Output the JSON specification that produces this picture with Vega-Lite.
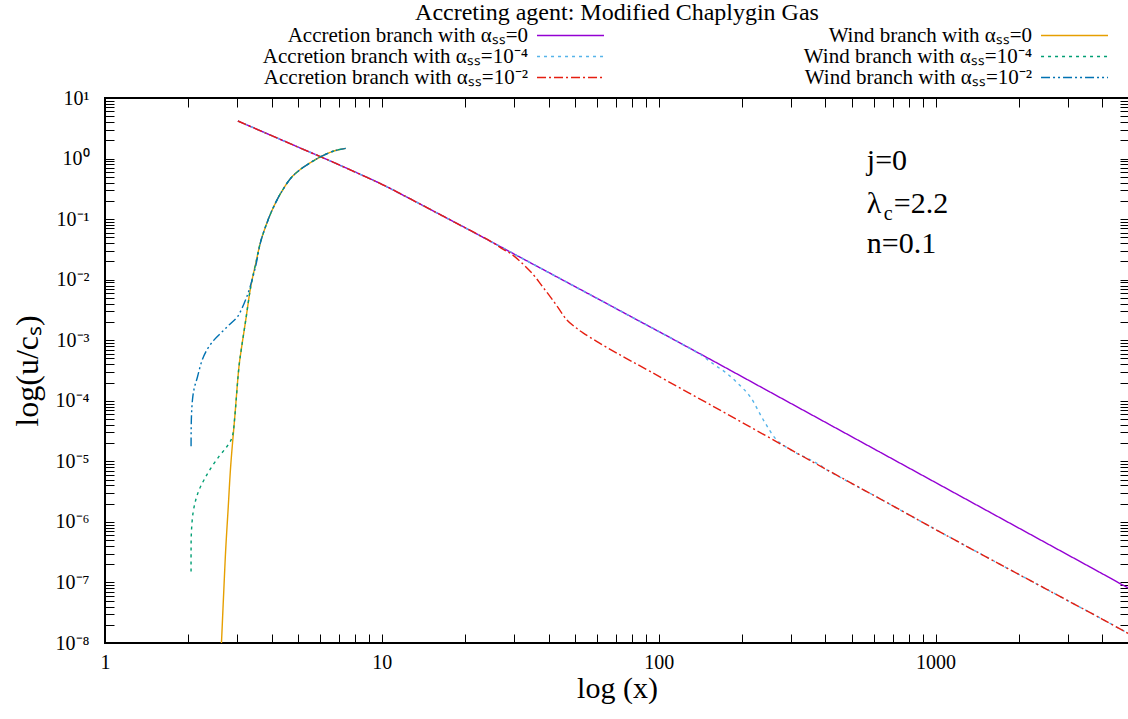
{
  "$schema": "https://vega.github.io/schema/vega-lite/v6.json",
  "autosize": {"type": "pad"},
  "padding": {"left": 10, "top": 0, "right": 0, "bottom": 0},
  "background": "white",
  "title": {"text": "Accreting agent: Modified Chaplygin Gas", "font": "Liberation Serif", "fontSize": 24, "fontWeight": "normal", "color": "black", "anchor": "middle", "frame": "group", "offset": 0},
  "spacing": 10,
  "bounds": "flush",
  "config": {
    "font": "Liberation Serif",
    "axis": {"labelColor": "black", "tickColor": "black", "titleColor": "black", "labelFont": "Liberation Serif", "titleFont": "Liberation Serif", "titleFontWeight": "normal", "grid": false, "domain": false, "tickWidth": 1, "ticks": true},
    "text": {"font": "Liberation Serif", "color": "black"}
  },
  "datasets": {
    "curves": [
      {"s": "acc0", "i": 0, "x": 3.02, "u": 4.17},
      {"s": "acc0", "i": 1, "x": 3.98, "u": 2.415},
      {"s": "acc0", "i": 2, "x": 5.01, "u": 1.531},
      {"s": "acc0", "i": 3, "x": 6.31, "u": 0.973},
      {"s": "acc0", "i": 4, "x": 7.94, "u": 0.61},
      {"s": "acc0", "i": 5, "x": 10, "u": 0.376},
      {"s": "acc0", "i": 6, "x": 12.59, "u": 0.219},
      {"s": "acc0", "i": 7, "x": 15.85, "u": 0.126},
      {"s": "acc0", "i": 8, "x": 19.95, "u": 0.0724},
      {"s": "acc0", "i": 9, "x": 25.12, "u": 0.0412},
      {"s": "acc0", "i": 10, "x": 31.62, "u": 0.0234},
      {"s": "acc0", "i": 11, "x": 39.81, "u": 0.01334},
      {"s": "acc0", "i": 12, "x": 50.12, "u": 0.00759},
      {"s": "acc0", "i": 13, "x": 63.1, "u": 0.00432},
      {"s": "acc0", "i": 14, "x": 79.4, "u": 0.002455},
      {"s": "acc0", "i": 15, "x": 100, "u": 0.001396},
      {"s": "acc0", "i": 16, "x": 158.5, "u": 0.000447},
      {"s": "acc0", "i": 17, "x": 251.2, "u": 0.0001413},
      {"s": "acc0", "i": 18, "x": 398.1, "u": 0.0000447},
      {"s": "acc0", "i": 19, "x": 631, "u": 0.00001413},
      {"s": "acc0", "i": 20, "x": 1000, "u": 0.00000447},
      {"s": "acc0", "i": 21, "x": 1585, "u": 0.000001413},
      {"s": "acc0", "i": 22, "x": 2512, "u": 4.47e-7},
      {"s": "acc0", "i": 23, "x": 3981, "u": 1.413e-7},
      {"s": "acc0", "i": 24, "x": 5000, "u": 7.94e-8},

      {"s": "acc4", "i": 0, "x": 3.02, "u": 4.17},
      {"s": "acc4", "i": 1, "x": 3.98, "u": 2.415},
      {"s": "acc4", "i": 2, "x": 5.01, "u": 1.531},
      {"s": "acc4", "i": 3, "x": 6.31, "u": 0.973},
      {"s": "acc4", "i": 4, "x": 7.94, "u": 0.61},
      {"s": "acc4", "i": 5, "x": 10, "u": 0.376},
      {"s": "acc4", "i": 6, "x": 12.59, "u": 0.219},
      {"s": "acc4", "i": 7, "x": 15.85, "u": 0.126},
      {"s": "acc4", "i": 8, "x": 19.95, "u": 0.0724},
      {"s": "acc4", "i": 9, "x": 25.12, "u": 0.0412},
      {"s": "acc4", "i": 10, "x": 31.62, "u": 0.0234},
      {"s": "acc4", "i": 11, "x": 39.81, "u": 0.01334},
      {"s": "acc4", "i": 12, "x": 50.12, "u": 0.00759},
      {"s": "acc4", "i": 13, "x": 63.1, "u": 0.00432},
      {"s": "acc4", "i": 14, "x": 79.4, "u": 0.002455},
      {"s": "acc4", "i": 15, "x": 100, "u": 0.001396},
      {"s": "acc4", "i": 16, "x": 125.9, "u": 0.00079},
      {"s": "acc4", "i": 17, "x": 140.9, "u": 0.000589},
      {"s": "acc4", "i": 18, "x": 158.5, "u": 0.000398},
      {"s": "acc4", "i": 19, "x": 175.8, "u": 0.000286},
      {"s": "acc4", "i": 20, "x": 195, "u": 0.000186},
      {"s": "acc4", "i": 21, "x": 213.8, "u": 0.0001178},
      {"s": "acc4", "i": 22, "x": 238.8, "u": 0.0000485},
      {"s": "acc4", "i": 23, "x": 266.7, "u": 0.0000227},
      {"s": "acc4", "i": 24, "x": 306.2, "u": 0.00001462},
      {"s": "acc4", "i": 25, "x": 342, "u": 0.00001138},
      {"s": "acc4", "i": 26, "x": 383.7, "u": 0.00000861},
      {"s": "acc4", "i": 27, "x": 398.1, "u": 0.00000759},
      {"s": "acc4", "i": 28, "x": 631, "u": 0.0000024},
      {"s": "acc4", "i": 29, "x": 1000, "u": 7.5e-7},
      {"s": "acc4", "i": 30, "x": 1585, "u": 2.4e-7},
      {"s": "acc4", "i": 31, "x": 2512, "u": 7.76e-8},
      {"s": "acc4", "i": 32, "x": 3981, "u": 2.51e-8},
      {"s": "acc4", "i": 33, "x": 5000, "u": 1.413e-8},

      {"s": "acc2", "i": 0, "x": 3.02, "u": 4.17},
      {"s": "acc2", "i": 1, "x": 3.98, "u": 2.415},
      {"s": "acc2", "i": 2, "x": 5.01, "u": 1.531},
      {"s": "acc2", "i": 3, "x": 6.31, "u": 0.973},
      {"s": "acc2", "i": 4, "x": 7.94, "u": 0.61},
      {"s": "acc2", "i": 5, "x": 10, "u": 0.376},
      {"s": "acc2", "i": 6, "x": 12.59, "u": 0.219},
      {"s": "acc2", "i": 7, "x": 15.85, "u": 0.126},
      {"s": "acc2", "i": 8, "x": 19.95, "u": 0.0724},
      {"s": "acc2", "i": 9, "x": 25.12, "u": 0.0412},
      {"s": "acc2", "i": 10, "x": 27.48, "u": 0.0316},
      {"s": "acc2", "i": 11, "x": 29.1, "u": 0.02735},
      {"s": "acc2", "i": 12, "x": 31.62, "u": 0.01995},
      {"s": "acc2", "i": 13, "x": 35.3, "u": 0.012},
      {"s": "acc2", "i": 14, "x": 37.84, "u": 0.00794},
      {"s": "acc2", "i": 15, "x": 40.55, "u": 0.00526},
      {"s": "acc2", "i": 16, "x": 43.45, "u": 0.00339},
      {"s": "acc2", "i": 17, "x": 46.56, "u": 0.00217},
      {"s": "acc2", "i": 18, "x": 50.12, "u": 0.00162},
      {"s": "acc2", "i": 19, "x": 53.46, "u": 0.00131},
      {"s": "acc2", "i": 20, "x": 60.26, "u": 0.000933},
      {"s": "acc2", "i": 21, "x": 70.63, "u": 0.000612},
      {"s": "acc2", "i": 22, "x": 93.1, "u": 0.000305},
      {"s": "acc2", "i": 23, "x": 158.5, "u": 0.0000794},
      {"s": "acc2", "i": 24, "x": 251.2, "u": 0.00002455},
      {"s": "acc2", "i": 25, "x": 398.1, "u": 0.00000759},
      {"s": "acc2", "i": 26, "x": 631, "u": 0.0000024},
      {"s": "acc2", "i": 27, "x": 1000, "u": 7.5e-7},
      {"s": "acc2", "i": 28, "x": 1585, "u": 2.4e-7},
      {"s": "acc2", "i": 29, "x": 2512, "u": 7.76e-8},
      {"s": "acc2", "i": 30, "x": 3981, "u": 2.51e-8},
      {"s": "acc2", "i": 31, "x": 5000, "u": 1.413e-8},

      {"s": "wind0", "i": 0, "x": 2.6, "u": 3.16e-9},
      {"s": "wind0", "i": 1, "x": 2.634, "u": 1e-8},
      {"s": "wind0", "i": 2, "x": 2.679, "u": 5.62e-8},
      {"s": "wind0", "i": 3, "x": 2.729, "u": 3.475e-7},
      {"s": "wind0", "i": 4, "x": 2.786, "u": 0.0000017},
      {"s": "wind0", "i": 5, "x": 2.844, "u": 0.00000824},
      {"s": "wind0", "i": 6, "x": 2.944, "u": 0.000055},
      {"s": "wind0", "i": 7, "x": 3.048, "u": 0.000368},
      {"s": "wind0", "i": 8, "x": 3.112, "u": 0.000741},
      {"s": "wind0", "i": 9, "x": 3.225, "u": 0.00217},
      {"s": "wind0", "i": 10, "x": 3.362, "u": 0.00769},
      {"s": "wind0", "i": 11, "x": 3.508, "u": 0.01905},
      {"s": "wind0", "i": 12, "x": 3.652, "u": 0.0427},
      {"s": "wind0", "i": 13, "x": 3.882, "u": 0.0971},
      {"s": "wind0", "i": 14, "x": 4.081, "u": 0.1652},
      {"s": "wind0", "i": 15, "x": 4.312, "u": 0.2673},
      {"s": "wind0", "i": 16, "x": 4.688, "u": 0.473},
      {"s": "wind0", "i": 17, "x": 5.091, "u": 0.668},
      {"s": "wind0", "i": 18, "x": 5.534, "u": 0.861},
      {"s": "wind0", "i": 19, "x": 6.012, "u": 1.074},
      {"s": "wind0", "i": 20, "x": 6.714, "u": 1.334},
      {"s": "wind0", "i": 21, "x": 7.396, "u": 1.472},

      {"s": "wind4", "i": 0, "x": 2.046, "u": 1.52e-7},
      {"s": "wind4", "i": 1, "x": 2.046, "u": 3.16e-7},
      {"s": "wind4", "i": 2, "x": 2.051, "u": 6.55e-7},
      {"s": "wind4", "i": 3, "x": 2.08, "u": 0.000001413},
      {"s": "wind4", "i": 4, "x": 2.128, "u": 0.00000232},
      {"s": "wind4", "i": 5, "x": 2.188, "u": 0.00000339},
      {"s": "wind4", "i": 6, "x": 2.28, "u": 0.00000497},
      {"s": "wind4", "i": 7, "x": 2.399, "u": 0.00000741},
      {"s": "wind4", "i": 8, "x": 2.582, "u": 0.00001205},
      {"s": "wind4", "i": 9, "x": 2.754, "u": 0.0000174},
      {"s": "wind4", "i": 10, "x": 2.851, "u": 0.0000224},
      {"s": "wind4", "i": 11, "x": 2.897, "u": 0.0000282},
      {"s": "wind4", "i": 12, "x": 2.944, "u": 0.000055},
      {"s": "wind4", "i": 13, "x": 3.048, "u": 0.000368},
      {"s": "wind4", "i": 14, "x": 3.112, "u": 0.000741},
      {"s": "wind4", "i": 15, "x": 3.225, "u": 0.00217},
      {"s": "wind4", "i": 16, "x": 3.362, "u": 0.00769},
      {"s": "wind4", "i": 17, "x": 3.508, "u": 0.01905},
      {"s": "wind4", "i": 18, "x": 3.652, "u": 0.0427},
      {"s": "wind4", "i": 19, "x": 3.882, "u": 0.0971},
      {"s": "wind4", "i": 20, "x": 4.081, "u": 0.1652},
      {"s": "wind4", "i": 21, "x": 4.312, "u": 0.2673},
      {"s": "wind4", "i": 22, "x": 4.688, "u": 0.473},
      {"s": "wind4", "i": 23, "x": 5.091, "u": 0.668},
      {"s": "wind4", "i": 24, "x": 5.534, "u": 0.861},
      {"s": "wind4", "i": 25, "x": 6.012, "u": 1.074},
      {"s": "wind4", "i": 26, "x": 6.714, "u": 1.334},
      {"s": "wind4", "i": 27, "x": 7.396, "u": 1.472},

      {"s": "wind2", "i": 0, "x": 2.046, "u": 0.0000177},
      {"s": "wind2", "i": 1, "x": 2.051, "u": 0.0000501},
      {"s": "wind2", "i": 2, "x": 2.07, "u": 0.000104},
      {"s": "wind2", "i": 3, "x": 2.099, "u": 0.0001585},
      {"s": "wind2", "i": 4, "x": 2.16, "u": 0.000252},
      {"s": "wind2", "i": 5, "x": 2.239, "u": 0.000457},
      {"s": "wind2", "i": 6, "x": 2.336, "u": 0.000695},
      {"s": "wind2", "i": 7, "x": 2.483, "u": 0.001023},
      {"s": "wind2", "i": 8, "x": 2.655, "u": 0.00139},
      {"s": "wind2", "i": 9, "x": 2.818, "u": 0.00182},
      {"s": "wind2", "i": 10, "x": 3.013, "u": 0.00246},
      {"s": "wind2", "i": 11, "x": 3.119, "u": 0.00331},
      {"s": "wind2", "i": 12, "x": 3.221, "u": 0.00465},
      {"s": "wind2", "i": 13, "x": 3.327, "u": 0.00708},
      {"s": "wind2", "i": 14, "x": 3.508, "u": 0.0174},
      {"s": "wind2", "i": 15, "x": 3.652, "u": 0.0427},
      {"s": "wind2", "i": 16, "x": 3.882, "u": 0.0971},
      {"s": "wind2", "i": 17, "x": 4.081, "u": 0.1652},
      {"s": "wind2", "i": 18, "x": 4.312, "u": 0.2673},
      {"s": "wind2", "i": 19, "x": 4.688, "u": 0.473},
      {"s": "wind2", "i": 20, "x": 5.091, "u": 0.668},
      {"s": "wind2", "i": 21, "x": 5.534, "u": 0.861},
      {"s": "wind2", "i": 22, "x": 6.012, "u": 1.074},
      {"s": "wind2", "i": 23, "x": 6.714, "u": 1.334},
      {"s": "wind2", "i": 24, "x": 7.396, "u": 1.472}
    ],
    "legend": [
      {"s": "acc0", "label": "Accretion branch with αₛₛ=0", "row": 0, "col": 0},
      {"s": "acc4", "label": "Accretion branch with αₛₛ=10⁻⁴", "row": 1, "col": 0},
      {"s": "acc2", "label": "Accretion branch with αₛₛ=10⁻²", "row": 2, "col": 0},
      {"s": "wind0", "label": "Wind branch with αₛₛ=0", "row": 0, "col": 1},
      {"s": "wind4", "label": "Wind branch with αₛₛ=10⁻⁴", "row": 1, "col": 1},
      {"s": "wind2", "label": "Wind branch with αₛₛ=10⁻²", "row": 2, "col": 1}
    ],
    "notes": [
      {"part": "main", "x": 565, "y": 0.65, "t": "j=0"},
      {"part": "main", "x": 565, "y": 0.126, "t": "λ"},
      {"part": "sub", "x": 565, "y": 0.126, "t": "c"},
      {"part": "tail", "x": 565, "y": 0.126, "t": "=2.2"},
      {"part": "main", "x": 565, "y": 0.0277, "t": "n=0.1"}
    ]
  },
  "vconcat": [
    {
      "width": 1024,
      "height": 63,
      "view": {"stroke": null},
      "data": {"name": "legend"},
      "layer": [
        {
          "mark": {"type": "text", "align": "right", "baseline": "middle", "font": "Liberation Serif", "fontSize": 21, "color": "black"},
          "encoding": {
            "x": {"field": "col", "type": "quantitative", "scale": {"domain": [-0.8393, 1.1924], "nice": false, "zero": false}, "axis": null},
            "y": {"field": "row", "type": "ordinal", "scale": {"type": "point", "padding": 0.5}, "axis": null},
            "text": {"field": "label"}
          }
        },
        {
          "mark": {"type": "rule", "xOffset": 9, "x2Offset": 76, "strokeWidth": 1.5},
          "encoding": {
            "x": {"field": "col", "type": "quantitative"},
            "x2": {"field": "col"},
            "y": {"field": "row", "type": "ordinal"},
            "color": {"field": "s", "type": "nominal", "legend": null,
              "scale": {"domain": ["acc0", "acc4", "acc2", "wind0", "wind4", "wind2"], "range": ["#9400D3", "#56B4E9", "#E51E10", "#E69F00", "#009E73", "#0072B2"]}},
            "strokeDash": {"field": "s", "type": "nominal", "legend": null,
              "scale": {"domain": ["acc0", "acc4", "acc2", "wind0", "wind4", "wind2"], "range": [[1, 0], [3, 4], [9, 3, 2, 3], [1, 0], [3, 4], [9, 3, 2, 3, 2, 3]]}}
          }
        }
      ]
    },
    {
      "width": 1024,
      "height": 545,
      "view": {"stroke": "black", "strokeWidth": 2},
      "layer": [
        {
          "data": {"name": "curves"},
          "mark": {"type": "line", "clip": true, "strokeWidth": 1.4, "interpolate": "catmull-rom"},
          "encoding": {
            "x": {"field": "x", "type": "quantitative",
              "scale": {"type": "log", "domain": [1, 5000], "nice": false},
              "axis": {"orient": "bottom", "values": [1,2,3,4,5,6,7,8,9,10,20,30,40,50,60,70,80,90,100,200,300,400,500,600,700,800,900,1000,2000,3000,4000,5000],
                "labelExpr": "datum.value == 1 ? '1' : datum.value == 10 ? '10' : datum.value == 100 ? '100' : datum.value == 1000 ? '1000' : ''",
                "labelOverlap": false, "labelFlush": false, "labelFontSize": 20, "labelPadding": 18, "tickSize": -9,
                "encode": {"ticks": {"update": {"y2": {"signal": "abs(log(datum.value)/LN10 - round(log(datum.value)/LN10)) < 0.000001 ? -9 : -5"}}}},
                "title": "log (x)", "titleFontSize": 30, "titlePadding": 1}},
            "y": {"field": "u", "type": "quantitative",
              "scale": {"type": "log", "domain": [1e-8, 10], "nice": false},
              "axis": {"orient": "left", "values": [1e-8,2e-8,3e-8,4e-8,5e-8,6e-8,7e-8,8e-8,9e-8,1e-7,2e-7,3e-7,4e-7,5e-7,6e-7,7e-7,8e-7,9e-7,1e-6,2e-6,3e-6,4e-6,5e-6,6e-6,7e-6,8e-6,9e-6,1e-5,2e-5,3e-5,4e-5,5e-5,6e-5,7e-5,8e-5,9e-5,1e-4,2e-4,3e-4,4e-4,5e-4,6e-4,7e-4,8e-4,9e-4,0.001,0.002,0.003,0.004,0.005,0.006,0.007,0.008,0.009,0.01,0.02,0.03,0.04,0.05,0.06,0.07,0.08,0.09,0.1,0.2,0.3,0.4,0.5,0.6,0.7,0.8,0.9,1,2,3,4,5,6,7,8,9,10],
                "labelExpr": "abs(log(datum.value)/LN10 - round(log(datum.value)/LN10)) < 0.000001 ? ['10⁻⁸','10⁻⁷','10⁻⁶','10⁻⁵','10⁻⁴','10⁻³','10⁻²','10⁻¹','10⁰','10¹'][round(log(datum.value)/LN10)+8] : ''",
                "labelOverlap": false, "labelFlush": false, "labelFontSize": 20, "labelPadding": 25, "tickSize": -9,
                "encode": {"ticks": {"update": {"x2": {"signal": "abs(log(datum.value)/LN10 - round(log(datum.value)/LN10)) < 0.000001 ? 9 : 5"}}}},
                "title": "log(u/cₛ)", "titleFontSize": 32, "titlePadding": 11}},
            "color": {"field": "s", "type": "nominal", "legend": null,
              "scale": {"domain": ["acc0", "acc4", "acc2", "wind0", "wind4", "wind2"], "range": ["#9400D3", "#56B4E9", "#E51E10", "#E69F00", "#009E73", "#0072B2"]}},
            "strokeDash": {"field": "s", "type": "nominal", "legend": null,
              "scale": {"domain": ["acc0", "acc4", "acc2", "wind0", "wind4", "wind2"], "range": [[1, 0], [3, 4], [9, 3, 2, 3], [1, 0], [3, 4], [9, 3, 2, 3, 2, 3]]}},
            "order": {"field": "i", "type": "quantitative"}
          }
        },
        {
          "data": {"name": "notes"},
          "transform": [{"filter": "datum.part == 'main'"}],
          "mark": {"type": "text", "align": "left", "baseline": "alphabetic", "fontSize": 30, "font": "Liberation Serif", "color": "black"},
          "encoding": {
            "x": {"field": "x", "type": "quantitative",
              "axis": {"orient": "top", "values": [1,2,3,4,5,6,7,8,9,10,20,30,40,50,60,70,80,90,100,200,300,400,500,600,700,800,900,1000,2000,3000,4000,5000],
                "labels": false, "title": null, "tickSize": -9,
                "encode": {"ticks": {"update": {"y2": {"signal": "abs(log(datum.value)/LN10 - round(log(datum.value)/LN10)) < 0.000001 ? 9 : 5"}}}}}},
            "y": {"field": "y", "type": "quantitative",
              "axis": {"orient": "right", "values": [1e-8,2e-8,3e-8,4e-8,5e-8,6e-8,7e-8,8e-8,9e-8,1e-7,2e-7,3e-7,4e-7,5e-7,6e-7,7e-7,8e-7,9e-7,1e-6,2e-6,3e-6,4e-6,5e-6,6e-6,7e-6,8e-6,9e-6,1e-5,2e-5,3e-5,4e-5,5e-5,6e-5,7e-5,8e-5,9e-5,1e-4,2e-4,3e-4,4e-4,5e-4,6e-4,7e-4,8e-4,9e-4,0.001,0.002,0.003,0.004,0.005,0.006,0.007,0.008,0.009,0.01,0.02,0.03,0.04,0.05,0.06,0.07,0.08,0.09,0.1,0.2,0.3,0.4,0.5,0.6,0.7,0.8,0.9,1,2,3,4,5,6,7,8,9,10],
                "labels": false, "title": null, "tickSize": -9,
                "encode": {"ticks": {"update": {"x2": {"signal": "abs(log(datum.value)/LN10 - round(log(datum.value)/LN10)) < 0.000001 ? -9 : -5"}}}}}},
            "text": {"field": "t"}
          }
        },
        {
          "data": {"name": "notes"},
          "transform": [{"filter": "datum.part == 'sub'"}],
          "mark": {"type": "text", "align": "left", "baseline": "alphabetic", "fontSize": 20, "font": "Liberation Serif", "color": "black", "dx": 17, "dy": 7},
          "encoding": {
            "x": {"field": "x", "type": "quantitative", "axis": null},
            "y": {"field": "y", "type": "quantitative", "axis": null},
            "text": {"field": "t"}
          }
        },
        {
          "data": {"name": "notes"},
          "transform": [{"filter": "datum.part == 'tail'"}],
          "mark": {"type": "text", "align": "left", "baseline": "alphabetic", "fontSize": 30, "font": "Liberation Serif", "color": "black", "dx": 27},
          "encoding": {
            "x": {"field": "x", "type": "quantitative", "axis": null},
            "y": {"field": "y", "type": "quantitative", "axis": null},
            "text": {"field": "t"}
          }
        }
      ]
    }
  ]
}
